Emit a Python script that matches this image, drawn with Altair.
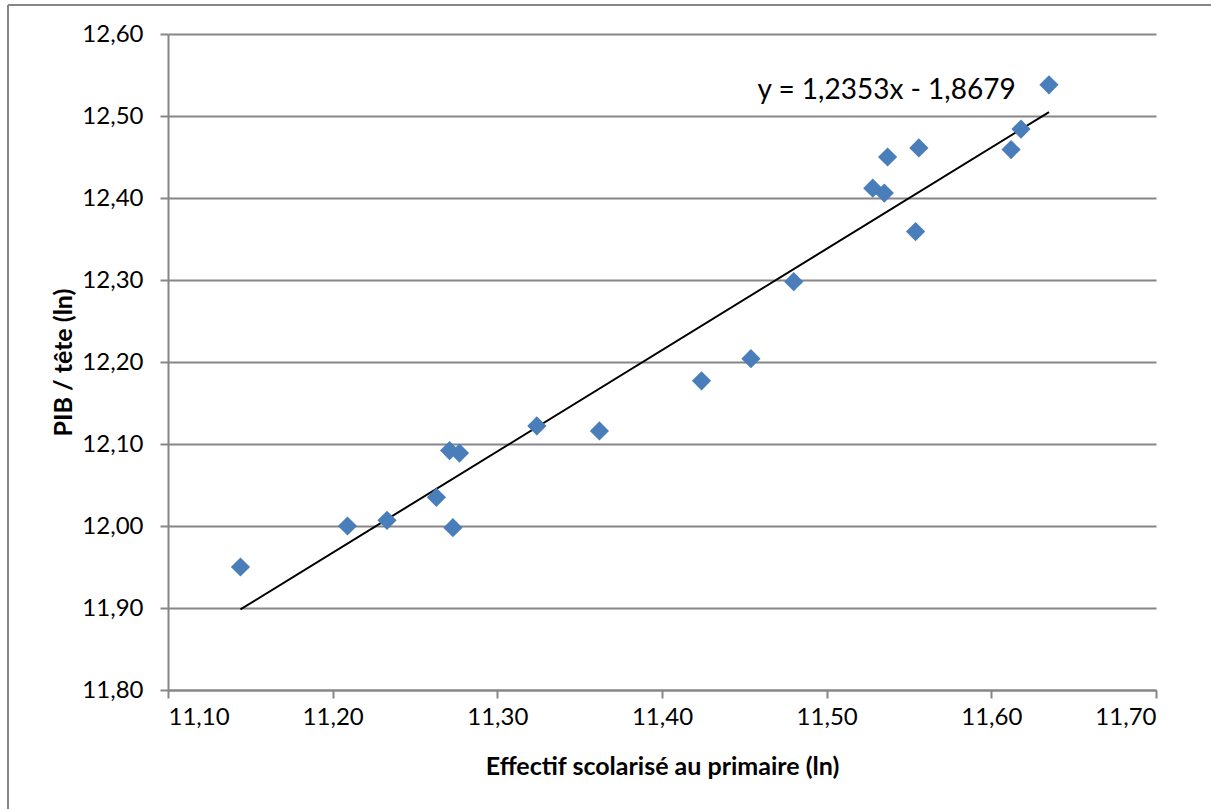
import altair as alt
import pandas as pd

# Data
x_values = [11.144, 11.209, 11.233, 11.263, 11.271, 11.277, 11.273, 11.324, 11.362, 11.424,
            11.454, 11.480, 11.528, 11.535, 11.537, 11.554, 11.556, 11.612, 11.618, 11.635]
y_values = [11.950, 12.000, 12.007, 12.035, 12.092, 12.089, 11.998, 12.122, 12.116, 12.177,
            12.204, 12.298, 12.412, 12.406, 12.450, 12.359, 12.461, 12.459, 12.484, 12.538]

trend_slope = 1.2353
trend_intercept = -1.8679
equation_text = ["y = 1,2353x - 1,8679"]
equation_x = [11.458]
equation_y = [12.521]

x_ticks = [11.10, 11.20, 11.30, 11.40, 11.50, 11.60, 11.70]
y_ticks = [11.80, 11.90, 12.00, 12.10, 12.20, 12.30, 12.40, 12.50, 12.60]

x_title = "Effectif scolarisé au primaire (ln)"
y_title = "PIB / tête (ln)"

FONT = "Lato"
GRAY = "#868686"
BLUE = "#4A7EBB"

df = pd.DataFrame({"x": x_values, "y": y_values})
line_df = pd.DataFrame({"x": [min(x_values), max(x_values)]})
eq_df = pd.DataFrame({"label": equation_text, "x": equation_x, "y": equation_y})

label_expr = "replace(format(datum.value, '.2f'), '.', ',')"

xscale = alt.Scale(domain=[11.10, 11.70], nice=False, zero=False)
yscale = alt.Scale(domain=[11.80, 12.60], nice=False, zero=False)

xaxis = alt.Axis(values=x_ticks, labelExpr=label_expr, grid=False, tickSize=8,
                 tickColor=GRAY, domainColor=GRAY, domainWidth=2, tickWidth=2,
                 labelFont=FONT, labelFontSize=24, labelColor="black", labelPadding=7,
                 title=x_title, titleFont=FONT, titleFontSize=25, titleFontWeight="bold",
                 titleColor="black", titleY=84, titleBaseline="alphabetic")
yaxis = alt.Axis(values=y_ticks, labelExpr=label_expr, grid=True, gridColor=GRAY,
                 gridWidth=2, tickSize=8, tickColor=GRAY, domainColor=GRAY, domainWidth=2,
                 tickWidth=2, labelFont=FONT, labelFontSize=24, labelColor="black",
                 labelPadding=17, title=y_title, titleFont=FONT, titleFontSize=25,
                 titleFontWeight="bold", titleColor="black", titleX=-97,
                 titleBaseline="alphabetic")

points = alt.Chart(df).mark_point(shape="diamond", filled=True, size=370, color=BLUE,
                                  opacity=1).encode(
    x=alt.X("x:Q", scale=xscale, axis=xaxis),
    y=alt.Y("y:Q", scale=yscale, axis=yaxis),
)

trend = alt.Chart(line_df).transform_calculate(
    y=f"{trend_slope} * datum.x + ({trend_intercept})"
).mark_line(color="black", strokeWidth=2).encode(
    x=alt.X("x:Q", scale=xscale),
    y=alt.Y("y:Q", scale=yscale),
)

eq = alt.Chart(eq_df).mark_text(align="left", baseline="alphabetic", font=FONT,
                                fontSize=28, color="black").encode(
    x=alt.X("x:Q", scale=xscale),
    y=alt.Y("y:Q", scale=yscale),
    text="label:N",
)

border_left = alt.Chart(eq_df).mark_rule(color=GRAY, strokeWidth=2).encode(
    x=alt.value(-160), y=alt.value(-29), y2=alt.value(900))
border_top = alt.Chart(eq_df).mark_rule(color=GRAY, strokeWidth=2).encode(
    x=alt.value(-160), x2=alt.value(1200), y=alt.value(-29))

chart = alt.layer(border_left, border_top, trend, points, eq).properties(
    width=988, height=656,
    padding={"left": 168, "top": 34, "right": 55, "bottom": 119},
    autosize=alt.AutoSizeParams(type="none"),
    background="white",
).configure_view(stroke="transparent")

chart.save("out.html", embed_options={"renderer": "svg", "actions": False})
